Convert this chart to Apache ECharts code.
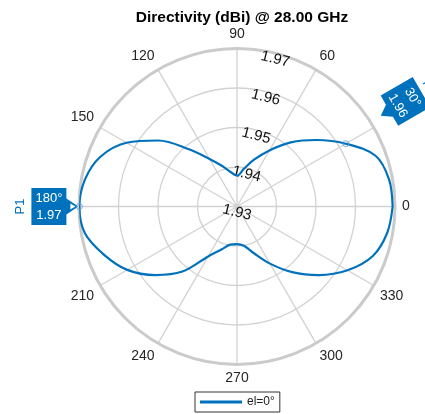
<!DOCTYPE html>
<html>
<head>
<meta charset="utf-8">
<script src="https://cdn.jsdelivr.net/npm/echarts@6/dist/echarts.min.js"></script>
<style>
html,body{margin:0;padding:0;background:#fff;}
#chart{width:425px;height:414px;}
</style>
</head>
<body>
<div id="chart"></div>
<script>
// ---- data ----
const titleText = 'Directivity (dBi) @ 28.00 GHz';
const seriesName = 'el=0°';
// visible angle tick labels (30 and 180 are hidden under the data tips)
const angleTicks = [0, 60, 90, 120, 150, 210, 240, 270, 300, 330];
const radialTicks = [1.93, 1.94, 1.95, 1.96, 1.97];
const anglesDeg = [0,10,20,30,40,50,60,70,80,90,100,110,120,130,140,150,160,170,
                   180,190,200,210,220,230,240,250,260,270,280,290,300,310,320,330,340,350,360];
const directivity = [1.9694,1.9691,1.9674,1.9618,1.9562,1.9512,1.9464,1.9426,1.9396,1.9378,
                     1.9388,1.9409,1.9439,1.9489,1.9560,1.9623,1.9668,1.9691,
                     1.9699,1.9691,1.9658,1.9621,1.9570,1.9515,1.9446,1.9416,1.9398,1.9395,
                     1.9401,1.9426,1.9467,1.9517,1.9570,1.9623,1.9666,1.9686,1.9694];
const tipNames = ['P1', 'P2'];
const tipAngles = [180, 30];
const tipValues = [1.9699, 1.9618];
const tipLabels = ['1.97', '1.96'];

// ---- chart ----
const FONT = 'Liberation Sans, Arial, Helvetica, sans-serif';
const BLUE = '#0072BD';
const chart = echarts.init(document.getElementById('chart'), null, {renderer: 'canvas'});
const rMin = radialTicks[0], rMax = radialTicks[radialTicks.length - 1];
const rStep = radialTicks[1] - radialTicks[0];

const lineData = anglesDeg.map((a, i) => [directivity[i], a]);
const tipData = tipAngles.map((a, i) => [tipValues[i], a]);

const option = {
  animation: false,
  backgroundColor: '#fff',
  title: {
    text: titleText, left: 237, top: 5, textAlign: 'center',
    textStyle: {fontFamily: FONT, fontSize: 15.5, fontWeight: 'bold', color: '#000'}
  },
  legend: {
    data: [seriesName], left: 195, top: 392,
    icon: 'rect', itemWidth: 42, itemHeight: 3, itemGap: 4,
    padding: [4, 5, 4, 5], borderColor: '#333', borderWidth: 1, borderRadius: 0,
    backgroundColor: '#fff',
    textStyle: {fontFamily: FONT, fontSize: 12, color: '#222'}
  },
  polar: [
    {center: [237, 206.5], radius: 158},
    {center: [237, 212.5], radius: 158}
  ],
  angleAxis: [
    {
      polarIndex: 0, type: 'value', min: 0, max: 360, interval: 30,
      startAngle: 0, clockwise: false,
      axisLine: {show: true, lineStyle: {color: '#cbcbcb', width: 3}},
      axisTick: {show: false},
      splitLine: {show: true, lineStyle: {color: '#d2d2d2', width: 1.3}},
      axisLabel: {
        margin: 7, fontFamily: FONT, fontSize: 14, color: '#262626',
        formatter: v => angleTicks.indexOf(v) >= 0 ? String(v) : ''
      }
    },
    {
      polarIndex: 1, type: 'value', min: 0, max: 360, startAngle: 76, clockwise: false,
      show: false
    }
  ],
  radiusAxis: [
    {
      polarIndex: 0, type: 'value', min: rMin, max: rMax, interval: rStep,
      axisLine: {show: false}, axisTick: {show: false}, axisLabel: {show: false},
      splitLine: {show: true, lineStyle: {color: '#d2d2d2', width: 1.3}}
    },
    {
      polarIndex: 1, type: 'value', min: rMin, max: rMax, interval: rStep,
      axisLine: {show: false}, axisTick: {show: false}, splitLine: {show: false},
      axisLabel: {
        show: true, margin: 0, rotate: -14, align: 'center', verticalAlign: 'middle',
        fontFamily: FONT, fontSize: 15, color: '#111',
        formatter: v => {
          const t = radialTicks.find(x => Math.abs(x - v) < 1e-6);
          return t === undefined ? '' : t.toFixed(2);
        }
      }
    }
  ],
  series: [
    {
      name: seriesName, type: 'line', coordinateSystem: 'polar', polarIndex: 0,
      data: lineData, showSymbol: false, smooth: 0.35,
      lineStyle: {color: BLUE, width: 2.2}, itemStyle: {color: BLUE}, z: 5
    },
    {
      name: 'tips', type: 'scatter', coordinateSystem: 'polar', polarIndex: 0,
      data: tipData, symbol: 'circle', symbolSize: 6,
      itemStyle: {color: 'rgba(255,255,255,0)', borderColor: '#5aa0d6', borderWidth: 1}, z: 6
    }
  ]
};
chart.setOption(option);

// ---- data tip annotations, anchored at data points through the polar scale ----
const p1 = chart.convertToPixel({polarIndex: 0}, tipData[0]);
const p2 = chart.convertToPixel({polarIndex: 0}, tipData[1]);
const tipFont = '13px ' + FONT;

// P1 at 180°: box on the left, arrow pointing right at the curve
const w1 = 35, h1 = 37, a1 = 12;
const g1 = {
  type: 'group', x: p1[0] - 1, y: p1[1], z: 20,
  children: [
    {type: 'polygon', shape: {points: [
      [-a1 - w1, -h1 / 2], [-a1, -h1 / 2], [-a1, -8], [0, 0], [-a1, 8], [-a1, h1 / 2], [-a1 - w1, h1 / 2]
    ]}, style: {fill: BLUE}},
    {type: 'polygon', shape: {points: [[-8, -3], [-8, 3], [-3, 0]]}, style: {fill: '#fff'}},
    {type: 'text', x: -a1 - w1 / 2, y: -8.5, style: {text: tipAngles[0] + '°', fill: '#fff', font: tipFont, align: 'center', verticalAlign: 'middle'}},
    {type: 'text', x: -a1 - w1 / 2, y: 8.5, style: {text: tipLabels[0], fill: '#fff', font: tipFont, align: 'center', verticalAlign: 'middle'}},
    {type: 'text', x: -a1 - w1 - 11, y: 0, rotation: Math.PI / 2, style: {text: tipNames[0], fill: BLUE, font: tipFont, align: 'center', verticalAlign: 'middle'}}
  ]
};

// P2 at 30°: box rotated 60° clockwise, arrow pointing back towards the curve
const w2 = 35, h2 = 37, a2 = 10;
const g2 = {
  type: 'group', x: p2[0] + 35, y: p2[1] - 28, rotation: -Math.PI / 3, z: 20,
  children: [
    {type: 'polygon', shape: {points: [
      [-w2 / 2, -a2 - h2], [w2 / 2, -a2 - h2], [w2 / 2, -a2], [7, -a2], [0, 0], [-7, -a2], [-w2 / 2, -a2]
    ]}, style: {fill: BLUE}},
    {type: 'text', x: 0, y: -a2 - h2 * 0.72, style: {text: tipAngles[1] + '°', fill: '#fff', font: tipFont, align: 'center', verticalAlign: 'middle'}},
    {type: 'text', x: 0, y: -a2 - h2 * 0.26, style: {text: tipLabels[1], fill: '#fff', font: tipFont, align: 'center', verticalAlign: 'middle'}},
    {type: 'text', x: 0, y: -a2 - h2 - 9, style: {text: tipNames[1], fill: BLUE, font: tipFont, align: 'center', verticalAlign: 'middle'}}
  ]
};
chart.setOption({graphic: [g1, g2]});
</script>
</body>
</html>
